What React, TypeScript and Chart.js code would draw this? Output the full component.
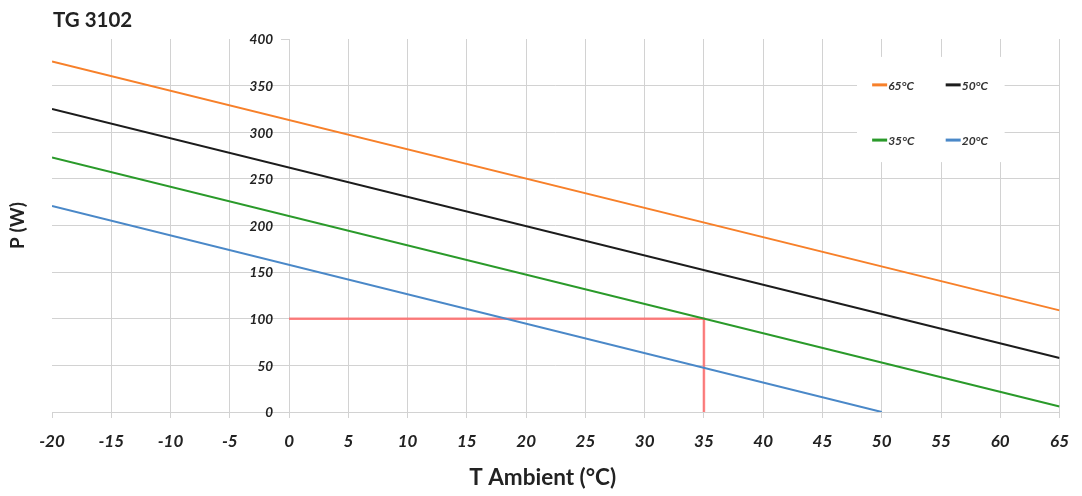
import React, { useEffect, useRef } from "react";
import { Chart, registerables } from "chart.js";

Chart.register(...registerables);

const TITLE = "TG 3102";
const X_TITLE = "T Ambient (°C)";
const Y_TITLE = "P (W)";

const X_MIN = -20;
const X_MAX = 65;
const X_STEP = 5;
const Y_MIN = 0;
const Y_MAX = 400;
const Y_STEP = 50;

const seriesLabels = ["65°C", "50°C", "35°C", "20°C"];
const seriesColors = ["#f7802a", "#1c1c1c", "#2a9a2a", "#4a88c8"];

const t65 = [-20, 65];
const p65 = [376, 109];
const t50 = [-20, 65];
const p50 = [325, 58];
const t35 = [-20, 65];
const p35 = [273, 6];
const t20 = [-20, 50];
const p20 = [221, 0];

const opT = [0, 35, 35];
const opP = [100, 100, 0];
const opColor = "rgba(255, 100, 100, 0.8)";

const FONT = "Lato, 'Open Sans', sans-serif";
const GRID = "#d2d2d2";

const toPts = (xs: number[], ys: number[]) => xs.map((x, i) => ({ x, y: ys[i] }));

const decorPlugin = {
  id: "decor",
  beforeDatasetsDraw(chart: any) {
    const { ctx, chartArea: a } = chart;
    const w = a.right - a.left;
    const h = a.bottom - a.top;
    ctx.save();
    // y tick labels, drawn to the left of the crossing y axis
    const ys = chart.scales.y;
    const axisX = chart.scales.x.getPixelForValue(0);
    ctx.fillStyle = "#222";
    ctx.font = `italic bold 13.5px ${FONT}`;
    ctx.textAlign = "right";
    ctx.textBaseline = "middle";
    ys.ticks.forEach((t: any) => {
      ctx.fillText(String(t.value), axisX - 16, ys.getPixelForValue(t.value) + 1);
    });
    // tick mark at the top of the axis
    ctx.strokeStyle = GRID;
    ctx.lineWidth = 1;
    ctx.beginPath();
    const yTop = Math.round(ys.getPixelForValue(Y_MAX)) + 0.5;
    ctx.moveTo(axisX - 8, yTop);
    ctx.lineTo(axisX, yTop);
    ctx.stroke();
    // legend
    ctx.fillStyle = "#ffffff";
    ctx.fillRect(a.left + 0.799 * w, a.top + 0.048 * h, 0.1465 * w, 0.282 * h);
    const cols = [0.814, 0.887];
    const rows = [0.123, 0.271];
    ctx.font = `italic bold 12px ${FONT}`;
    ctx.textAlign = "left";
    seriesLabels.forEach((lab, i) => {
      const cx = a.left + cols[i % 2] * w;
      const cy = a.top + rows[Math.floor(i / 2)] * h;
      ctx.strokeStyle = seriesColors[i];
      ctx.lineWidth = 3;
      ctx.beginPath();
      ctx.moveTo(cx, cy);
      ctx.lineTo(cx + 15, cy);
      ctx.stroke();
      ctx.fillStyle = "#333";
      ctx.fillText(lab, cx + 16, cy + 1);
    });
    ctx.restore();
  },
  afterDraw(chart: any) {
    const { ctx, chartArea: a } = chart;
    const w = a.right - a.left;
    const h = a.bottom - a.top;
    ctx.save();
    ctx.fillStyle = "#222";
    ctx.textBaseline = "middle";
    ctx.font = `bold 20.5px ${FONT}`;
    ctx.textAlign = "left";
    ctx.fillText(TITLE, a.left + 1, 20);
    ctx.font = `bold 22.5px ${FONT}`;
    ctx.textAlign = "center";
    ctx.fillText(X_TITLE, a.left + 0.487 * w, 478);
    ctx.font = `bold 19px ${FONT}`;
    ctx.translate(18, a.top + 0.5 * h);
    ctx.rotate(-Math.PI / 2);
    ctx.fillText(Y_TITLE, 0, 0);
    ctx.restore();
  },
};

export default function App() {
  const ref = useRef<HTMLCanvasElement | null>(null);

  useEffect(() => {
    document.body.style.margin = "0";
    if (!ref.current) return;
    const line = (label: string, xs: number[], ys: number[], color: string, bw: number) => ({
      label,
      data: toPts(xs, ys),
      borderColor: color,
      backgroundColor: color,
      borderWidth: bw,
      pointRadius: 0,
      showLine: true,
      fill: false,
    });
    const chart = new Chart(ref.current, {
      type: "scatter",
      data: {
        datasets: [
          line(seriesLabels[0], t65, p65, seriesColors[0], 2),
          line(seriesLabels[1], t50, p50, seriesColors[1], 2),
          line(seriesLabels[2], t35, p35, seriesColors[2], 2),
          line(seriesLabels[3], t20, p20, seriesColors[3], 2),
          line("op", opT, opP, opColor, 2.5),
        ],
      },
      options: {
        animation: false,
        responsive: true,
        maintainAspectRatio: false,
        layout: { padding: { left: 52, right: 21, top: 39, bottom: 0 } },
        plugins: {
          legend: { display: false },
          tooltip: { enabled: false },
          title: { display: false },
        },
        scales: {
          x: {
            type: "linear",
            position: "bottom",
            min: X_MIN,
            max: X_MAX,
            afterFit: (s: any) => {
              s.height = 84;
            },
            ticks: {
              stepSize: X_STEP,
              padding: 13,
              color: "#222",
              font: { family: FONT, size: 17, weight: "bold", style: "italic" },
            },
            grid: {
              color: (c: any) => (c.tick && c.tick.value === X_MIN ? "rgba(0,0,0,0)" : GRID),
              tickColor: GRID,
              tickLength: 6,
              lineWidth: 1,
            },
            border: { color: GRID, width: 1 },
          },
          y: {
            type: "linear",
            position: { x: 0 } as any,
            min: Y_MIN,
            max: Y_MAX,
            ticks: {
              stepSize: Y_STEP,
              display: false,
            },
            grid: {
              color: (c: any) => (c.tick && c.tick.value === Y_MAX ? "rgba(0,0,0,0)" : GRID),
              tickColor: GRID,
              tickLength: 8,
              lineWidth: 1,
            },
            border: { color: GRID, width: 1 },
          },
        },
      },
      plugins: [decorPlugin],
    });
    return () => chart.destroy();
  }, []);

  return (
    <div style={{ width: 1082, height: 496, position: "relative" }}>
      <canvas ref={ref} />
    </div>
  );
}
